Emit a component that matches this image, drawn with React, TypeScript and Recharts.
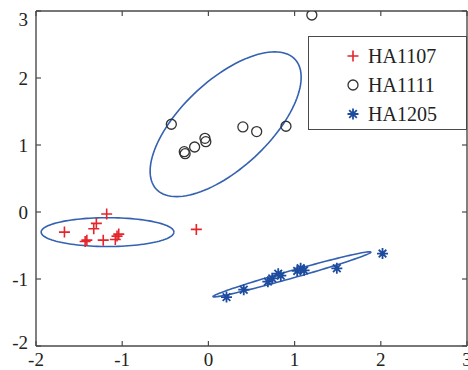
import { ScatterChart, Scatter, XAxis, YAxis, Legend } from 'recharts';

const W = 468;
const H = 370;
const SERIF = '"Liberation Serif", "Times New Roman", serif';
const RED = '#e4262c';
const RING = '#333333';
const NAVY = '#1d4c9f';
const LOOP = '#3461b0';
const FRAME = '#4a4a4a';

const xTicks = [-2, -1, 0, 1, 2, 3];
const yTicks = [-2, -1, 0, 1, 2, 3];

const ha1107 = [
  { x: -1.18, y: -0.03 },
  { x: -1.67, y: -0.30 },
  { x: -1.30, y: -0.17 },
  { x: -1.33, y: -0.25 },
  { x: -1.43, y: -0.44 },
  { x: -1.41, y: -0.42 },
  { x: -1.22, y: -0.42 },
  { x: -1.08, y: -0.41 },
  { x: -1.04, y: -0.33 },
  { x: -1.06, y: -0.36 },
  { x: -0.14, y: -0.26 },
];

const ha1111 = [
  { x: -0.43, y: 1.31 },
  { x: -0.28, y: 0.90 },
  { x: -0.27, y: 0.87 },
  { x: -0.16, y: 0.97 },
  { x: -0.04, y: 1.10 },
  { x: -0.03, y: 1.05 },
  { x: 0.40, y: 1.27 },
  { x: 0.56, y: 1.20 },
  { x: 0.90, y: 1.28 },
  { x: 1.20, y: 2.94 },
];

const ha1205 = [
  { x: 0.21, y: -1.27 },
  { x: 0.41, y: -1.16 },
  { x: 0.69, y: -1.04 },
  { x: 0.74, y: -0.99 },
  { x: 0.81, y: -0.92 },
  { x: 0.84, y: -0.95 },
  { x: 1.03, y: -0.88 },
  { x: 1.07, y: -0.84 },
  { x: 1.11, y: -0.87 },
  { x: 1.49, y: -0.84 },
  { x: 2.02, y: -0.62 },
];

// [centre x, centre y, semi-major, semi-minor, tilt in degrees]
const ha1107Ellipse = [-1.17, -0.3, 0.77, 0.215, 0];
const ha1111Ellipse = [0.2, 1.31, 1.27, 0.567, 54];
const ha1205Ellipse = [0.97, -0.93, 0.975, 0.055, 20];

function outline([cx, cy, a, b, deg]: number[]) {
  const t = (deg * Math.PI) / 180;
  const pts: { x: number; y: number }[] = [];
  for (let i = 0; i <= 120; i++) {
    const s = (i / 120) * 2 * Math.PI;
    const u = a * Math.cos(s);
    const v = b * Math.sin(s);
    pts.push({
      x: cx + u * Math.cos(t) - v * Math.sin(t),
      y: cy + u * Math.sin(t) + v * Math.cos(t),
    });
  }
  return pts;
}

function PlusMark({ cx, cy }: any) {
  return (
    <path
      d={`M${cx - 5.5},${cy}H${cx + 5.5}M${cx},${cy - 5.5}V${cy + 5.5}`}
      stroke={RED}
      strokeWidth={1.6}
      fill="none"
    />
  );
}

function RingMark({ cx, cy }: any) {
  return <circle cx={cx} cy={cy} r={5} fill="none" stroke={RING} strokeWidth={1.3} />;
}

function StarMark({ cx, cy }: any) {
  const d = 3.8;
  return (
    <path
      d={`M${cx - 5.5},${cy}H${cx + 5.5}M${cx},${cy - 5.5}V${cy + 5.5}` +
        `M${cx - d},${cy - d}L${cx + d},${cy + d}M${cx - d},${cy + d}L${cx + d},${cy - d}`}
      stroke={NAVY}
      strokeWidth={1.8}
      fill="none"
    />
  );
}

const noDot = () => <g />;

const keys = [
  { name: 'HA1107', Mark: PlusMark },
  { name: 'HA1111', Mark: RingMark },
  { name: 'HA1205', Mark: StarMark },
];

function KeyBox() {
  return (
    <div
      style={{
        position: 'relative',
        width: 159,
        height: 94,
        boxSizing: 'border-box',
        border: `1.5px solid ${FRAME}`,
        background: '#fff',
        fontFamily: SERIF,
        fontSize: 20,
        color: '#222',
      }}
    >
      {keys.map(({ name, Mark }, i) => (
        <div
          key={name}
          style={{ position: 'absolute', left: 0, top: 6 + i * 29, height: 26, display: 'flex', alignItems: 'center' }}
        >
          <svg width={58} height={26} style={{ display: 'block' }}>
            <Mark cx={44} cy={13} />
          </svg>
          <span style={{ marginLeft: 1, lineHeight: '26px' }}>{name}</span>
        </div>
      ))}
    </div>
  );
}

function YTick({ x, y, payload }: any) {
  // keep the end labels inside the frame height
  const yy = Math.min(Math.max(y, 19), 342);
  return (
    <text x={x} y={yy} dy="0.35em" textAnchor="end" fill="#222" fontSize={19} fontFamily={SERIF}>
      {payload.value}
    </text>
  );
}

const axisLine = { stroke: FRAME, strokeWidth: 1.4 };
const tickLine = { stroke: FRAME, strokeWidth: 1.2 };

export default function App() {
  return (
    <div style={{ position: 'absolute', left: 0, top: 0, width: W, height: H, background: '#fff' }}>
      <ScatterChart width={W} height={H} margin={{ top: 10, right: 0, bottom: 0, left: 0 }}>
        <XAxis
          type="number"
          dataKey="x"
          domain={[-2, 3]}
          ticks={xTicks}
          interval={0}
          allowDataOverflow
          height={24}
          tickSize={-5}
          tickMargin={12}
          axisLine={axisLine}
          tickLine={tickLine}
          tick={{ fill: '#222', fontSize: 19, fontFamily: SERIF }}
        />
        <XAxis
          xAxisId="top"
          orientation="top"
          type="number"
          dataKey="x"
          domain={[-2, 3]}
          ticks={xTicks}
          interval={0}
          allowDataOverflow
          height={1}
          tickSize={-5}
          axisLine={axisLine}
          tickLine={tickLine}
          tick={noDot}
        />
        <YAxis
          type="number"
          dataKey="y"
          domain={[-2, 3]}
          ticks={yTicks}
          interval={0}
          allowDataOverflow
          width={36}
          tickSize={-5}
          tickMargin={13}
          axisLine={axisLine}
          tickLine={tickLine}
          tick={<YTick />}
        />
        <YAxis
          yAxisId="right"
          orientation="right"
          type="number"
          dataKey="y"
          domain={[-2, 3]}
          ticks={yTicks}
          interval={0}
          allowDataOverflow
          width={1}
          tickSize={-5}
          axisLine={axisLine}
          tickLine={tickLine}
          tick={noDot}
        />
        <Scatter data={outline(ha1107Ellipse)} line={{ stroke: LOOP, strokeWidth: 1.6 }} lineType="joint" shape={noDot} legendType="none" isAnimationActive={false} />
        <Scatter data={outline(ha1111Ellipse)} line={{ stroke: LOOP, strokeWidth: 1.6 }} lineType="joint" shape={noDot} legendType="none" isAnimationActive={false} />
        <Scatter data={outline(ha1205Ellipse)} line={{ stroke: LOOP, strokeWidth: 1.6 }} lineType="joint" shape={noDot} legendType="none" isAnimationActive={false} />
        <Scatter name="HA1107" data={ha1107} shape={PlusMark} isAnimationActive={false} />
        <Scatter name="HA1111" data={ha1111} shape={RingMark} isAnimationActive={false} />
        <Scatter name="HA1205" data={ha1205} shape={StarMark} isAnimationActive={false} />
        <Legend
          layout="vertical"
          align="center"
          verticalAlign="middle"
          content={() => <KeyBox />}
          wrapperStyle={{ left: 308, top: 36, width: 159, height: 94 }}
        />
      </ScatterChart>
    </div>
  );
}
